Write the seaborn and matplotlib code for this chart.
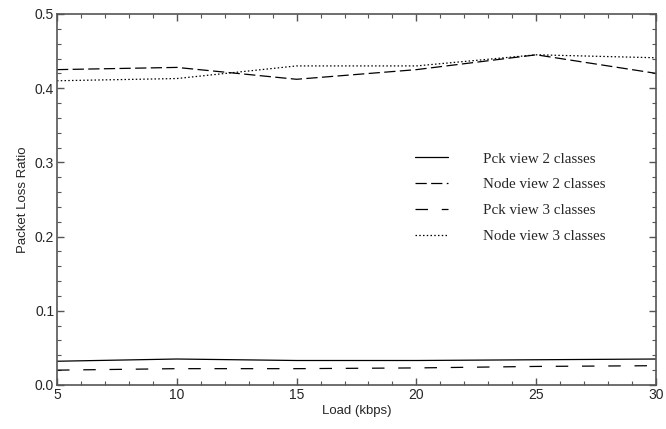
import pandas as pd
import matplotlib.pyplot as plt
import seaborn as sns
from matplotlib.ticker import MultipleLocator

# ── Data ──────────────────────────────────────────────────────────────────────
load_kbps = [5, 10, 15, 20, 25, 30]

pck_view_2  = [0.032, 0.035, 0.033, 0.033, 0.034, 0.035]
node_view_2 = [0.425, 0.428, 0.412, 0.425, 0.445, 0.420]
pck_view_3  = [0.020, 0.022, 0.022, 0.023, 0.025, 0.026]
node_view_3 = [0.410, 0.413, 0.430, 0.430, 0.445, 0.441]

series_names = ["Pck view 2 classes", "Node view 2 classes",
                "Pck view 3 classes", "Node view 3 classes"]

df = pd.DataFrame({
    "load": load_kbps * 4,
    "ratio": pck_view_2 + node_view_2 + pck_view_3 + node_view_3,
    "series": sum([[n] * len(load_kbps) for n in series_names], []),
})

dash_map = {
    "Pck view 2 classes": "",
    "Node view 2 classes": (9, 3.5),
    "Pck view 3 classes": (10, 11),
    "Node view 3 classes": (1.2, 1.8),
}

# ── Plot ──────────────────────────────────────────────────────────────────────
sns.set_style("ticks")
plt.rcParams["font.family"] = ["Liberation Sans", "DejaVu Sans"]

fig = plt.figure(figsize=(6.66, 4.29), dpi=100)
ax = fig.add_axes([0.0856, 0.1026, 0.8994, 0.8648])

sns.lineplot(data=df, x="load", y="ratio", style="series", dashes=dash_map,
             color="black", linewidth=0.9, ax=ax, legend=True)

ax.set_xlim(5, 30)
ax.set_ylim(0, 0.5)
ax.xaxis.set_major_locator(MultipleLocator(5))
ax.xaxis.set_minor_locator(MultipleLocator(1))
ax.yaxis.set_major_locator(MultipleLocator(0.1))
ax.yaxis.set_minor_locator(MultipleLocator(0.02))
ax.tick_params(which="both", direction="in", top=True, right=True,
               color="#555555", labelsize=10, pad=2)
ax.tick_params(which="major", length=5, width=1)
ax.tick_params(which="minor", length=3, width=0.8)
ax.tick_params(axis="x", labeltop=False)
ax.tick_params(axis="y", labelright=False)
ax.set_yticks([0, 0.1, 0.2, 0.3, 0.4, 0.5])
ax.set_yticklabels(["0.0", "0.1", "0.2", "0.3", "0.4", "0.5"])
for sp in ax.spines.values():
    sp.set_color("#555555")
    sp.set_linewidth(1.2)

ax.set_xlabel("Load (kbps)", fontsize=9.5, labelpad=2)
ax.set_ylabel("Packet Loss Ratio", fontsize=9.5, labelpad=4)

leg = ax.legend(loc="upper left", bbox_to_anchor=(0.588, 0.644), frameon=False,
                prop={"family": "Liberation Serif", "size": 10.8},
                handlelength=2.2, handletextpad=2.3, labelspacing=0.82,
                borderaxespad=0)
for h in leg.get_lines():
    h.set_linewidth(0.9)

fig.savefig("out.png", dpi=100)
